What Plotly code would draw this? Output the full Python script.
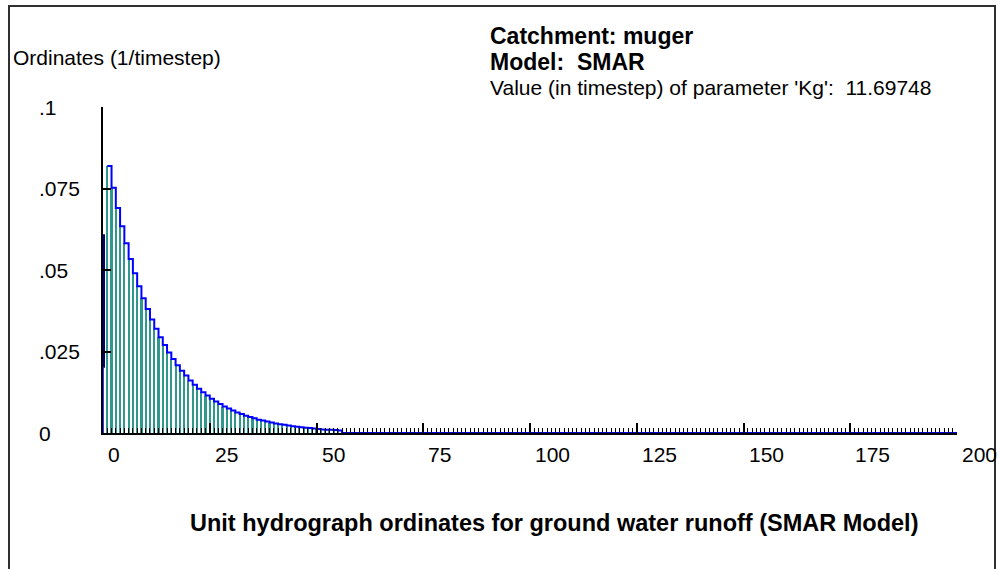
import plotly.graph_objects as go

# ---- data ----
timesteps = list(range(1, 56))
ordinates = [0.0819, 0.0752, 0.0690, 0.0634, 0.0582, 0.0534, 0.0490, 0.0450, 0.0413, 0.0380,
             0.0348, 0.0320, 0.0294, 0.0270, 0.0247, 0.0227, 0.0208, 0.0191, 0.0176, 0.0161,
             0.0148, 0.0136, 0.0125, 0.0115, 0.0105, 0.0097, 0.0089, 0.0081, 0.0075, 0.0069,
             0.0063, 0.0058, 0.0053, 0.0049, 0.0045, 0.0041, 0.0038, 0.0035, 0.0032, 0.0029,
             0.0027, 0.0025, 0.0023, 0.0021, 0.0019, 0.0018, 0.0016, 0.0015, 0.0014, 0.0012,
             0.0011, 0.0010, 0.0010, 0.0009, 0.0008]
tail_steps = [56, 200]
tail_values = [0.0, 0.0]
axis_light_y = [0.0, 0.020]
axis_dark_y = [0.020, 0.061]

x_tick_vals = [0, 25, 50, 75, 100, 125, 150, 175, 200]
x_tick_text = ["0", "25", "50", "75", "100", "125", "150", "175", "200"]
y_tick_vals = [0, 0.025, 0.05, 0.075, 0.1]
y_tick_text = ["0", ".025", ".05", ".075", ".1"]

catchment = "muger"
model = "SMAR"
kg_value = "11.69748"

# ---- layout geometry ----
W, H = 998, 569
L, R, T, B = 103, 41, 107, 136
PW, PH = W - L - R, H - T - B

def px(x):
    return (x - L) / PW

def py(y):
    return (H - B - y) / PH

FONT = "Liberation Sans, Arial, sans-serif"
NB = "\u00a0"

fig = go.Figure()
fig.add_trace(go.Bar(x=timesteps, y=ordinates, width=0.5,
                     marker=dict(color="#2f978b", line=dict(width=0)),
                     showlegend=False, hoverinfo="skip"))
fig.add_trace(go.Scatter(x=timesteps + tail_steps, y=ordinates + tail_values,
                         mode="lines", line=dict(color="#0000ff", width=2, shape="hv"),
                         showlegend=False, hoverinfo="skip"))
fig.add_trace(go.Scatter(x=[0, 0], y=axis_light_y, mode="lines",
                         line=dict(color="#3030ff", width=2), showlegend=False, hoverinfo="skip"))
fig.add_trace(go.Scatter(x=[0, 0], y=axis_dark_y, mode="lines",
                         line=dict(color="#000080", width=4), showlegend=False, hoverinfo="skip"))

annotations = []
for v, t in zip(y_tick_vals, y_tick_text):
    annotations.append(dict(x=px(37), xref="paper", y=v, yref="y", text=t, showarrow=False,
                            xanchor="left", yanchor="middle", font=dict(family=FONT, size=21, color="black")))
for v, t in zip(x_tick_vals, x_tick_text):
    annotations.append(dict(x=v, xref="x", xshift=3, y=py(454), yref="paper", text=t, showarrow=False,
                            xanchor="left", yanchor="middle", font=dict(family=FONT, size=21, color="black")))
annotations.append(dict(x=px(11), y=py(58), xref="paper", yref="paper", text="Ordinates (1/timestep)",
                        showarrow=False, xanchor="left", yanchor="middle",
                        font=dict(family=FONT, size=21, color="black")))
annotations.append(dict(x=px(488), y=py(36), xref="paper", yref="paper", text="<b>Catchment: " + catchment + "</b>",
                        showarrow=False, xanchor="left", yanchor="middle",
                        font=dict(family=FONT, size=23, color="black")))
annotations.append(dict(x=px(488), y=py(62), xref="paper", yref="paper",
                        text="<b>Model: " + NB + model + "</b>",
                        showarrow=False, xanchor="left", yanchor="middle",
                        font=dict(family=FONT, size=23, color="black")))
annotations.append(dict(x=px(488), y=py(88), xref="paper", yref="paper",
                        text="Value (in timestep) of parameter 'Kg': " + NB + kg_value,
                        showarrow=False, xanchor="left", yanchor="middle",
                        font=dict(family=FONT, size=21, color="black")))
annotations.append(dict(x=px(554), y=py(523), xref="paper", yref="paper",
                        text="<b>Unit hydrograph ordinates for ground water runoff (SMAR Model)</b>",
                        showarrow=False, xanchor="center", yanchor="middle",
                        font=dict(family=FONT, size=23.5, color="black")))

fig.update_layout(
    width=W, height=H, margin=dict(l=L, r=R, t=T, b=B, pad=0),
    paper_bgcolor="white", plot_bgcolor="white",
    bargap=0, showlegend=False,
    annotations=annotations,
    shapes=[dict(type="rect", xref="paper", yref="paper",
                 x0=px(9), x1=px(995), y0=py(600), y1=py(6),
                 line=dict(color="#303030", width=2), fillcolor="rgba(0,0,0,0)", layer="below")],
    xaxis=dict(range=[0, 200], showgrid=False, zeroline=False, showline=True,
               linecolor="black", linewidth=2, ticks="inside", ticklen=10, tickwidth=1.5,
               tickcolor="black", tickvals=x_tick_vals, showticklabels=False,
               minor=dict(dtick=1, ticks="inside", ticklen=5, tickwidth=1, tickcolor="black")),
    yaxis=dict(range=[0, 0.1], showgrid=False, zeroline=False, showline=True,
               linecolor="black", linewidth=2, ticks="inside", ticklen=8, tickwidth=1.5,
               tickcolor="black", tickvals=y_tick_vals, showticklabels=False),
)

fig.write_html("out.html")
